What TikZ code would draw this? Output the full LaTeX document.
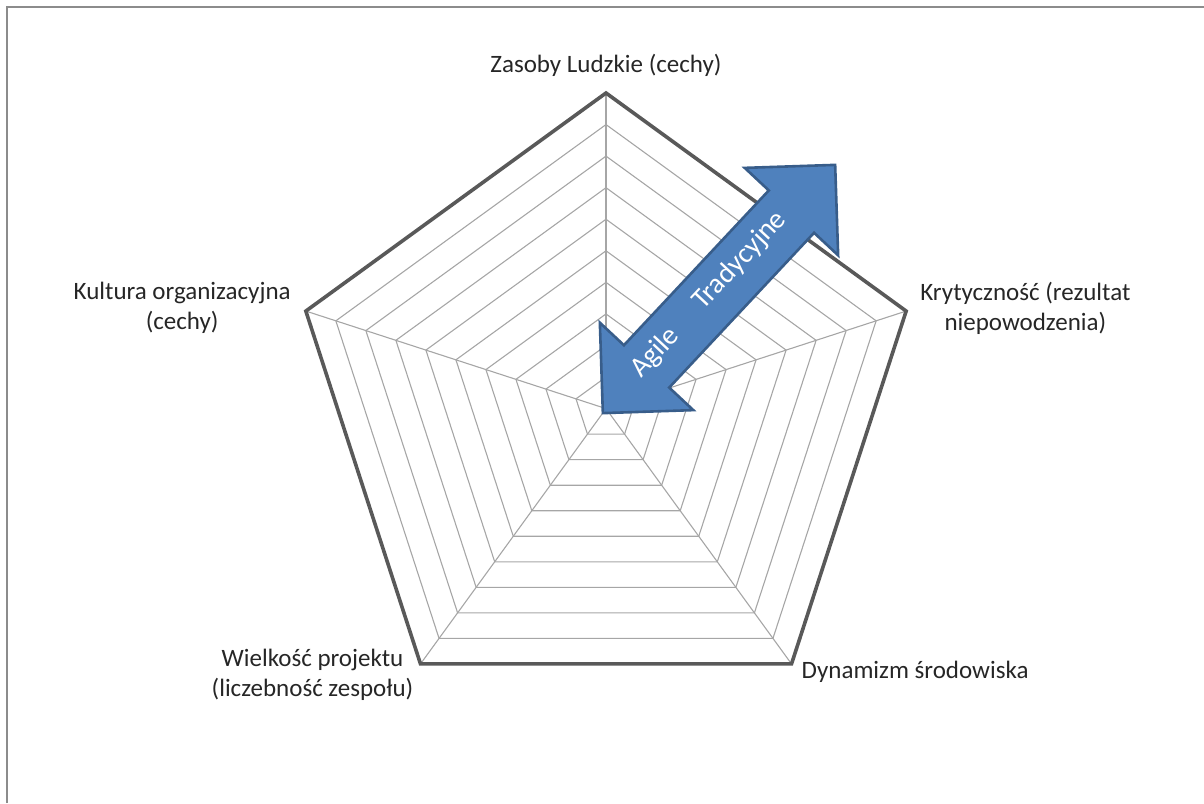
\documentclass[tikz,border=0pt]{standalone}
\usepackage{fontspec}
\setmainfont{Carlito}
\usetikzlibrary{positioning}
\definecolor{arrowfill}{HTML}{4F81BD}
\definecolor{arrowline}{HTML}{385D8A}
\definecolor{axisgray}{HTML}{595959}
\definecolor{ringgray}{HTML}{A6A6A6}
\definecolor{framegray}{HTML}{8C8C8C}
\tikzset{
  ring/.style={draw=ringgray, line width=1.1},
  outer/.style={draw=axisgray, line width=3.6, line join=miter},
  axislabel/.style={inner sep=0pt, align=center, text=black!85, font=\fontsize{25}{30}\selectfont},
  arrowshape/.style={fill=arrowfill, draw=arrowline, line width=2.6, line join=miter},
  arrowtext/.style={inner sep=0pt, text=white, transform shape, font=\fontsize{28.5}{30}\selectfont}
}

\begin{document}
\begin{tikzpicture}[x=1pt,y=-1pt]
\useasboundingbox (0,0) rectangle (1204,803);
\draw[framegray, line width=2.6] (7,803) -- (7,7) -- (1204,7);

\begin{scope}[shift={(606,408.6)}]
\coordinate (c) at (0,0);
\foreach \k in {1,...,9}
  \draw[ring] (-90:{\k*31.56}) -- (-18:{\k*31.56}) -- (54:{\k*31.56})
    -- (126:{\k*31.56}) -- (198:{\k*31.56}) -- cycle;
\foreach \a [count=\i] in {-90,-18,54,126,198}
  \coordinate (v\i) at (\a:315.6);
\foreach \i in {1,...,5}
  \draw[ring] (c) -- (v\i);
\draw[outer] (v1) -- (v2) -- (v3) -- (v4) -- (v5) -- cycle;
\end{scope}

% axis labels
\node[axislabel, above=16pt of v1] (zasoby) {Zasoby Ludzkie (cechy)};
\node[axislabel, right=14pt of v2, yshift=3pt] (kryt) {Krytyczność (rezultat\\niepowodzenia)};
\node[axislabel, right=10pt of v3, yshift=-8pt] (dyn) {Dynamizm środowiska};
\node[axislabel, left=7pt of v4, yshift=-11pt] (wiel) {Wielkość projektu\\(liczebność zespołu)};
\node[axislabel, left=15pt of v5, yshift=3pt] (kult) {Kultura organizacyjna\\(cechy)};

% double arrow
\begin{scope}[shift={(719,289)}, rotate=46.9]
\draw[arrowshape] (-170,0) -- (-106,-64) -- (-106,-31) -- (106,-31) -- (106,-64)
  -- (170,0) -- (106,64) -- (106,31) -- (-106,31) -- (-106,64) -- cycle;
\node[arrowtext] (agile) at (-90,-3) {Agile};
\node[arrowtext] (trad) at (35,-4) {Tradycyjne};
\end{scope}
\end{tikzpicture}
\end{document}
